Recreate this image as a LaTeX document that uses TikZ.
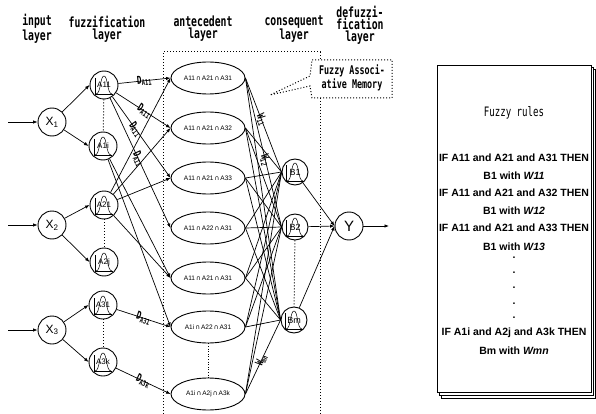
\documentclass[tikz,border=0pt]{standalone}
\usepackage{fontspec}
\newfontfamily\headfont[FakeStretch=0.7]{DejaVu Sans Mono}
\newfontfamily\rulefont{Liberation Sans}
\newfontfamily\symfont{DejaVu Sans}
\newcommand\isect{\,{\symfont ∩}\,}
\usetikzlibrary{shapes.geometric,arrows.meta}

\begin{document}
\begin{tikzpicture}[x=1pt,y=-1pt,>={Latex[length=4.5pt,width=3.5pt]},line width=0.7pt]
        \tikzstyle{every node}=[inner sep=0pt]
        \tikzstyle{head}=[font=\headfont\bfseries\fontsize{14}{12}\selectfont, align=center]
        \tikzstyle{xnode}=[draw, circle, minimum size=28pt, line width=0.9pt, font=\rulefont\fontsize{12}{12}\selectfont]
        \tikzstyle{fnode}=[draw, circle, minimum size=28pt, line width=0.9pt, font=\rulefont\fontsize{8}{8}\selectfont]
        \tikzstyle{cnode}=[draw, circle, minimum size=26pt, line width=0.9pt, font=\rulefont\fontsize{9}{9}\selectfont]
        \tikzstyle{anode}=[draw, ellipse, minimum width=74pt, minimum height=32pt, line width=0.9pt, font=\rulefont\fontsize{6.5}{7}\selectfont]
        \tikzstyle{mem}=[dotted, line width=1pt]
        \tikzstyle{dlabel}=[sloped, font=\headfont\bfseries\fontsize{11}{11}\selectfont]
        \tikzstyle{rule}=[font=\rulefont\bfseries\fontsize{10.5}{12}\selectfont]
        \useasboundingbox (0,0) rectangle (596,414);
        % layer titles
        \node[head] (hin) at (37,29) {input\\layer};
        \node[head] (hfuz) at (107,29) {fuzzification\\layer};
        \node[head] (hant) at (203,29) {antecedent\\layer};
        \node[head] (hcon) at (294,29) {consequent\\layer};
        \node[head] (hdef) at (360,25) {defuzzi-\\fication\\layer};
        % input layer
        \node[xnode] (x1) at (52,122) {X\textsubscript{1}};
        \node[xnode] (x2) at (52,225) {X\textsubscript{2}};
        \node[xnode] (x3) at (52,330) {X\textsubscript{3}};
        \foreach \i in {1,2,3} {
            \coordinate (in\i) at ([xshift=-44pt]x\i.center);
            \draw[->] (in\i) -- (x\i);
        }
        % fuzzification layer
        \node[fnode] (a11) at (104,85) {A11};
        \node[fnode] (a1i) at (103,146) {A1i};
        \node[fnode] (a21) at (104,205) {A21};
        \node[fnode] (a2j) at (104,262) {A2j};
        \node[fnode] (a31) at (103,305) {A31};
        \node[fnode] (a3k) at (103,362) {A3k};
        % consequent layer
        \node[cnode] (b1) at (295,172) {B1};
        \node[cnode] (b2) at (295,227) {B2};
        \node[cnode] (bm) at (294,320) {Bm};
        \foreach \n in {a11,a1i,a21,a2j,a31,a3k,b1,b2,bm} {
            \begin{scope}[shift={(\n.center)}, line width=0.5pt]
                \draw (-9,-7) -- (-9,9) -- (9,9);
                \draw (-8,9) .. controls (-3,9) and (-4,-9) .. (0,-9) .. controls (4,-9) and (3,9) .. (8,9);
            \end{scope}
        }
        \draw[->] (x1) -- (a11.west);
        \draw[->] (x1) -- (a1i.west);
        \draw[->] (x2) -- (a21.west);
        \draw[->] (x2) -- (a2j.west);
        \draw[->] (x3) -- (a31.west);
        \draw[->] (x3) -- (a3k.west);
        \draw[mem] (a11) -- (a1i);
        \draw[mem] (a21) -- (a2j);
        \draw[mem] (a31) -- (a3k);
        % antecedent layer
        \node[anode] (e1) at (208,78) {A11\isect A21\isect A31};
        \node[anode] (e2) at (208,128) {A11\isect A21\isect A32};
        \node[anode] (e3) at (208,178) {A11\isect A21\isect A33};
        \node[anode] (e4) at (208,228) {A11\isect A22\isect A31};
        \node[anode] (e5) at (208,278) {A11\isect A21\isect A31};
        \node[anode] (e6) at (208,327) {A1i\isect A22\isect A31};
        \node[anode] (e7) at (208,394) {A1i\isect A2j\isect A3k};
        \draw[mem, line width=0.6pt] (e6) -- (e7);
        % fuzzification -> antecedent
        \draw[->] (a11) -- node[dlabel, pos=0.5] {D\textsubscript{A11}} (e1.west);
        \draw[->] (a11) -- node[dlabel, pos=0.52] {D\textsubscript{A11}} (e2.west);
        \draw[->] (a11) -- node[dlabel, pos=0.4] {D\textsubscript{A11}} (e3.west);
        \draw[->] (a11) -- node[dlabel, pos=0.47] {D\textsubscript{A1i}} (e4.west);
        \draw[->] (a1i) -- (e5.west);
        \draw[->] (a1i) -- (e6.west);
        \foreach \e in {e1,e2,e3,e5}
            \draw[->] (a21) -- (\e.west);
        \draw[->] (a31) -- node[dlabel, pos=0.5] {D\textsubscript{A31}} (e6.west);
        \draw[->] (a3k) -- node[dlabel, pos=0.5] {D\textsubscript{A3k}} (e7.west);
        % antecedent -> consequent
        \foreach \e in {e1,e2,e3,e4,e5,e6,e7}
            \foreach \b in {b1,b2,bm}
                \draw (\e.east) -- (\b.west);
        \path (e1.east) -- node[dlabel, pos=0.45] {W\textsubscript{11}} (b1.west);
        \path (e1.east) -- node[dlabel, pos=0.55] {W\textsubscript{12}} (b2.west);
        \path (e7.east) -- node[dlabel, pos=0.46] {W\textsubscript{mn}} (bm.west);
        \draw[mem] (b2) -- (bm);
        % defuzzification layer
        \node[xnode, font=\rulefont\fontsize{15}{15}\selectfont] (y) at (349,226) {Y};
        \coordinate (yout) at (389,226);
        \foreach \b in {b1,b2,bm}
            \draw[->] (\b) -- (y.west);
        \draw[->] (y) -- (yout);
        % fuzzy associative memory
        \draw[mem] (163,414) |- (320,52) -- (320,60);
        \draw[mem] (320,98) -- (320,414);
        \coordinate (famtip) at (270,95);
        \draw[mem] (312,60) -- (392,60) -- (392,98) -- (312,98) -- (310,86) -- (famtip) -- (310,76) -- cycle;
        \node[font=\headfont\bfseries\fontsize{12}{14}\selectfont, align=center] (fam) at (352,78) {Fuzzy Associ-\\ative Memory};
        % fuzzy rules
        \draw[fill=white, line width=0.5pt] (441,69) rectangle (595,398);
        \draw[fill=white, line width=0.5pt] (439,67) rectangle (593,395);
        \draw[fill=white, line width=0.6pt] (437,65) rectangle (591,392);
        \node[head, font=\headfont\fontsize{13}{12}\selectfont] (rhead) at (514,113) {Fuzzy rules};
        \node[rule] (r1) at (514,158) {IF A11 and A21 and A31 THEN};
        \node[rule] (r2) at (514,176) {B1 with \textit{W11}};
        \node[rule] (r3) at (514,193) {IF A11 and A21 and A32 THEN};
        \node[rule] (r4) at (514,211) {B1 with \textit{W12}};
        \node[rule] (r5) at (514,228) {IF A11 and A21 and A33 THEN};
        \node[rule] (r6) at (514,247) {B1 with \textit{W13}};
        \foreach \d/\yy in {1/258,2/273,3/288,4/304,5/318}
            \node[rule] (dot\d) at (514,\yy) {.};
        \node[rule] (r7) at (514,333) {IF A1i and A2j and A3k THEN};
        \node[rule] (r8) at (514,351) {Bm with \textit{Wmn}};
    \end{tikzpicture}
\end{document}
